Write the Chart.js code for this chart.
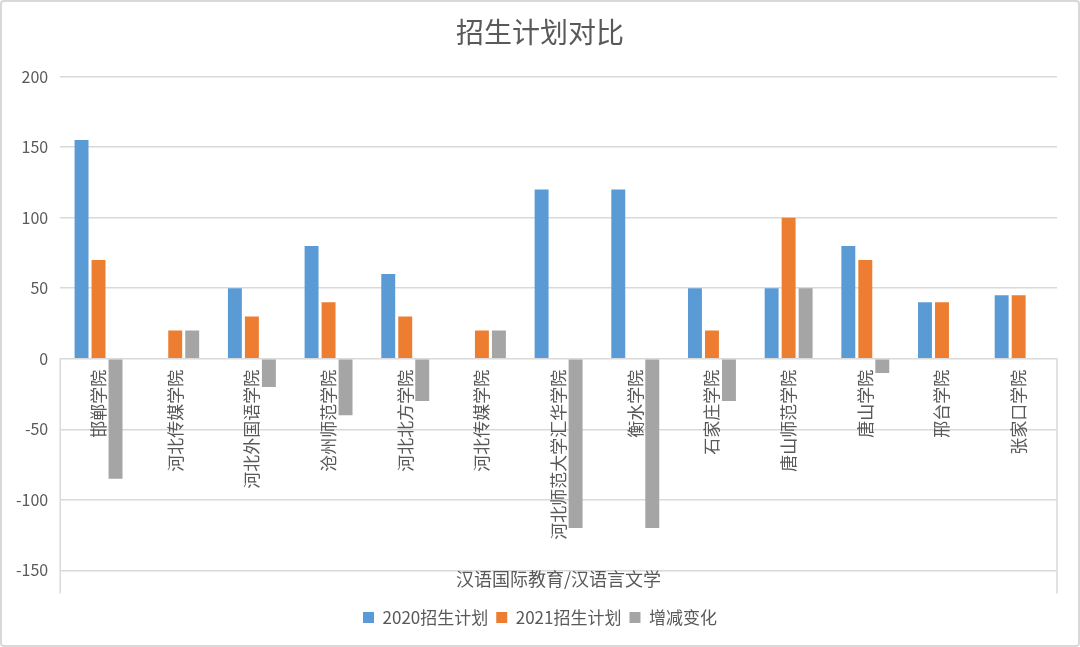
<!DOCTYPE html>
<html>
<head>
<meta charset="utf-8">
<script src="https://cdn.jsdelivr.net/npm/chart.js@4/dist/chart.umd.min.js"></script>
<style>
  html, body { margin: 0; padding: 0; background: #fff; }
  #wrap { width: 1080px; height: 647px; box-sizing: border-box; border: 2px solid #d9d9d9; border-radius: 4px; position: relative; }
  canvas { display: block; }
</style>
</head>
<body>
<div id="wrap"><canvas id="c"></canvas></div>
<script>
const chartTitle = '招生计划对比';
const groupLabel = '汉语国际教育/汉语言文学';
const categories = ['邯郸学院', '河北传媒学院', '河北外国语学院', '沧州师范学院', '河北北方学院', '河北传媒学院', '河北师范大学汇华学院', '衡水学院', '石家庄学院', '唐山师范学院', '唐山学院', '邢台学院', '张家口学院'];
const plan2020 = [155, 0, 50, 80, 60, 0, 120, 120, 50, 50, 80, 40, 45];
const plan2021 = [70, 20, 30, 40, 30, 20, 0, 0, 20, 100, 70, 40, 45];
const change = [-85, 20, -20, -40, -30, 20, -120, -120, -30, 50, -10, 0, 0];
const seriesNames = ['2020招生计划', '2021招生计划', '增减变化'];
const yMin = -150, yMax = 200, yStep = 50;

const FONT = '"Noto Sans CJK SC", "Noto Sans", sans-serif';
const TXT = '#595959';

const edgeLines = {
  id: 'edgeLines',
  afterDraw(chart) {
    const ctx = chart.ctx;
    const y0 = chart.scales.y.getPixelForValue(0);
    const yb = chart.chartArea.bottom + 23;
    ctx.save();
    ctx.strokeStyle = '#d9d9d9';
    ctx.lineWidth = 1.5;
    [chart.chartArea.left, chart.chartArea.right].forEach(x => {
      ctx.beginPath();
      ctx.moveTo(x, y0);
      ctx.lineTo(x, yb);
      ctx.stroke();
    });
    ctx.restore();
  }
};

new Chart(document.getElementById('c'), {
  type: 'bar',
  data: {
    labels: categories,
    datasets: [
      { label: seriesNames[0], data: plan2020, backgroundColor: '#5b9bd5' },
      { label: seriesNames[1], data: plan2021, backgroundColor: '#ed7d31' },
      { label: seriesNames[2], data: change, backgroundColor: '#a5a5a5' }
    ]
  },
  options: {
    responsive: true,
    maintainAspectRatio: false,
    animation: false,
    categoryPercentage: 0.665,
    barPercentage: 0.82,
    layout: { padding: { left: 2, right: 2, top: 0, bottom: 9 } },
    plugins: {
      title: {
        display: true,
        text: chartTitle,
        color: TXT,
        font: { family: FONT, size: 28, weight: 'normal' },
        padding: { top: 14, bottom: 27 }
      },
      legend: {
        position: 'bottom',
        labels: {
          color: TXT,
          font: { family: FONT, size: 17 },
          boxWidth: 11,
          boxHeight: 11,
          padding: 8
        }
      },
      tooltip: { enabled: false }
    },
    scales: {
      y: {
        min: yMin,
        max: yMax,
        ticks: { stepSize: yStep, color: TXT, font: { family: FONT, size: 16 }, padding: 12 },
        grid: { color: '#d9d9d9', lineWidth: 1.5, drawTicks: false },
        border: { display: false }
      },
      yR: {
        position: 'right',
        display: true,
        min: yMin,
        max: yMax,
        ticks: { display: false },
        grid: { display: false, drawTicks: false },
        border: { display: false },
        afterFit(scale) { scale.width = 19; }
      },
      x: {
        type: 'category',
        position: { y: 0 },
        ticks: {
          minRotation: 90, maxRotation: 90, autoSkip: false,
          color: TXT, font: { family: FONT, size: 17 }, padding: 11
        },
        grid: { display: false, drawTicks: false },
        border: { display: false }
      },
      x2: {
        type: 'category',
        position: 'bottom',
        labels: [groupLabel],
        offset: true,
        ticks: { display: false },
        grid: { display: false, drawTicks: false },
        border: { display: false },
        title: {
          display: true,
          text: groupLabel,
          color: TXT,
          font: { family: FONT, size: 18 },
          padding: { top: -2, bottom: 11 }
        }
      }
    }
  },
  plugins: [edgeLines]
});
</script>
</body>
</html>
